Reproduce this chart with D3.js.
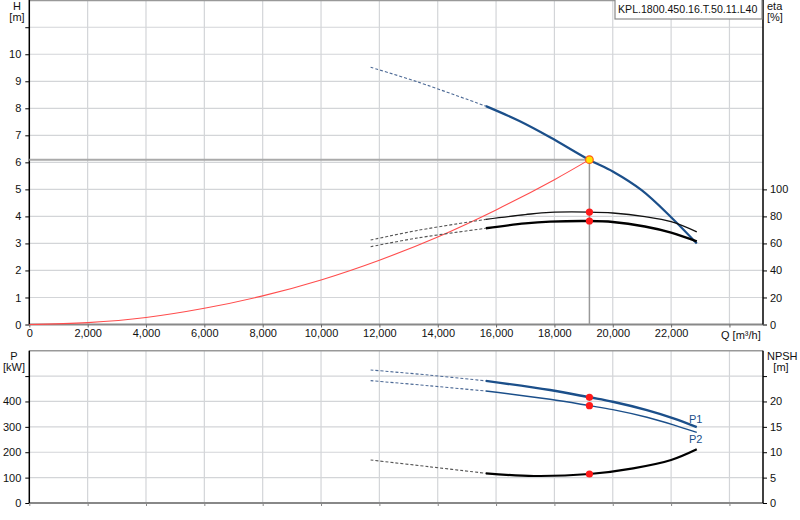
<!DOCTYPE html>
<html><head><meta charset="utf-8">
<script src="https://cdn.jsdelivr.net/npm/d3@7/dist/d3.min.js"></script>
<style>body{margin:0;background:#fff}svg{display:block;font-family:"Liberation Sans",Arial,sans-serif}</style>
</head><body>
<svg id="c" width="800" height="520"></svg>
<script>
// ---- data ----
const qTicks = [0,2000,4000,6000,8000,10000,12000,14000,16000,18000,20000,22000,24000];
const hTicks = [0,1,2,3,4,5,6,7,8,9,10,11];
const etaTicks = [0,20,40,60,80,100];
const pTicks = [0,100,200,300,400,500];
const npshTicks = [0,5,10,15,20,25];

const hDashQ = [11700,13300,15650];
const hDash  = [9.52,8.98,8.08];
const hQ = [15650,16800,17850,19200,20000,21000,22000,22880];
const hVal = [8.08,7.53,6.93,6.09,5.66,4.96,3.97,3.0];

const etaDashQ = [11700,13300,15650];
const eta1Dash = [62.5,69.6,77.8];
const eta2Dash = [57.6,64.0,71.2];
const etaQ = [15650,17000,17850,19200,20000,21100,22000,22880];
const eta1 = [77.8,81.3,83.0,83.2,82.5,79.8,76.1,68.6];
const eta2 = [71.2,74.8,76.1,76.6,75.9,72.5,68.0,61.5];

const sysQ = [0,2000,4000,6000,8000,10000,12000,14000,16000,18000,19200];
const sysH = [0,0.07,0.26,0.6,1.06,1.65,2.38,3.24,4.24,5.36,6.1];

const pDashQ = [11700,13700,15650];
const p1Dash = [524,504,481];
const p2Dash = [482,462,441];
const pQ = [15650,17850,19200,20000,21170,22080,22880];
const p1 = [481,445,416.5,399,366,333.6,299];
const p2 = [441,408.5,383.5,368,338,308,278];

const nDashQ = [11700,13700,15650];
const nDash = [8.47,7.15,5.85];
const nQ = [15650,17300,19200,20700,22000,22880];
const npsh = [5.85,5.32,5.71,6.83,8.47,10.58];

const op = {q:19200, h:6.1, eta1:83.2, eta2:76.6, p1:416.5, p2:383.5, npsh:5.71};
const title = "KPL.1800.450.16.T.50.11.L40";

// ---- scales ----
const L = 29.3, R = 763;
const x = d3.scaleLinear().domain([0,25150]).range([L,R]);
const yH = d3.scaleLinear().domain([0,12]).range([324.5,0.2]);
const yE = d3.scaleLinear().domain([0,240]).range([324.5,0.2]);
const yP = d3.scaleLinear().domain([0,600]).range([503,350.7]);
const yN = d3.scaleLinear().domain([0,30]).range([503,350.7]);

const svg = d3.select("#c");
const blue = "#1b4f8a";
const fmt = d3.format(",");

function grid(yScale, ticks, top, bottom){
  const g = svg.append("g");
  g.selectAll(".v").data(qTicks.filter(d=>d>0)).join("line")
    .attr("x1",d=>x(d)).attr("x2",d=>x(d)).attr("y1",top).attr("y2",bottom)
    .attr("stroke","#d3d5d8").attr("stroke-width",1.2);
  g.selectAll(".h").data(ticks.filter(d=>d>0)).join("line")
    .attr("x1",L).attr("x2",R).attr("y1",d=>yScale(d)).attr("y2",d=>yScale(d))
    .attr("stroke","#d3d5d8").attr("stroke-width",1.2);
  g.append("line").attr("x1",L).attr("x2",R).attr("y1",top).attr("y2",top).attr("stroke","#999").attr("stroke-width",1.5);
  g.append("line").attr("x1",L).attr("x2",R).attr("y1",bottom).attr("y2",bottom).attr("stroke","#888").attr("stroke-width",2);
}
grid(yH, hTicks, 0.5, yH(0));
grid(yP, pTicks, yP(600), yP(0));

function leftAxis(scale, ticks, maxLabel){
  const a = d3.axisLeft(scale).tickValues(ticks).tickSize(4).tickSizeOuter(0)
    .tickFormat(d=> d<=maxLabel ? d : "");
  const g = svg.append("g").attr("transform",`translate(${L},0)`).call(a);
  g.select(".domain").attr("stroke","#000").attr("stroke-width",1.5);
  g.selectAll("text").attr("font-size",11).attr("fill","#111").attr("dx",-1);
  return g;
}
function rightAxis(scale, ticks){
  const a = d3.axisRight(scale).tickValues(ticks).tickSize(4).tickSizeOuter(0);
  const g = svg.append("g").attr("transform",`translate(${R},0)`).call(a);
  g.select(".domain").attr("stroke","#000").attr("stroke-width",1.5);
  g.selectAll("text").attr("font-size",11).attr("fill","#111");
  return g;
}
const la1 = leftAxis(yH, hTicks, 10);
la1.select(".domain").attr("d",`M0,${yH(0)}V0`);
const ra1 = rightAxis(yE, etaTicks);
ra1.select(".domain").attr("d",`M0,${yE(0)}V0`);
const la2 = leftAxis(yP, pTicks, 400);
la2.select(".domain").attr("d",`M0,${yP(0)}V${yP(600)}`);
const ra2 = rightAxis(yN, npshTicks);
ra2.select(".domain").attr("d",`M0,${yN(0)}V${yN(30)}`);
ra2.selectAll("text").text(d=> d<=20 ? d : "");

const xa = d3.axisBottom(x).tickValues(qTicks).tickSize(3).tickSizeOuter(0)
  .tickFormat(d=> d===24000 ? "" : fmt(d));
const xg = svg.append("g").attr("transform",`translate(0,${yH(0)})`).call(xa);
xg.select(".domain").remove();
xg.selectAll("line").attr("stroke","#666");
xg.selectAll("text").attr("font-size",11).attr("fill","#111").attr("dy","0.55em");
svg.append("text").attr("x",721).attr("y",339).attr("font-size",11).attr("fill","#111").text("Q [m³/h]");
const xb = d3.axisBottom(x).tickValues(qTicks).tickSize(3).tickSizeOuter(0).tickFormat("");
const xbg = svg.append("g").attr("transform",`translate(0,${yP(0)})`).call(xb);
xbg.select(".domain").remove();
xbg.selectAll("line").attr("stroke","#888");

function lab(t,xx,yy,anchor,col){svg.append("text").attr("x",xx).attr("y",yy).attr("font-size",11)
  .attr("text-anchor",anchor).attr("fill",col||"#111").text(t);}
lab("H",17,10,"middle"); lab("[m]",17,21,"middle");
lab("eta",767,10,"start"); lab("[%]",767,21,"start");
lab("P",14,360,"middle"); lab("[kW]",14,371,"middle");
lab("NPSH",767,360,"start"); lab("[m]",781,371,"middle");

svg.append("line").attr("x1",L).attr("x2",x(op.q)).attr("y1",yH(op.h)).attr("y2",yH(op.h))
  .attr("stroke","#aaa").attr("stroke-width",2);
svg.append("line").attr("x1",x(op.q)).attr("x2",x(op.q)).attr("y1",yH(op.h)).attr("y2",yH(0))
  .attr("stroke","#999").attr("stroke-width",1.5);

function curve(qs, vs, ys, color, w, dash){
  const line = d3.line().x((d,i)=>x(qs[i])).y((d,i)=>ys(vs[i])).curve(d3.curveCatmullRom.alpha(0.5));
  svg.append("path").attr("d",line(vs)).attr("fill","none").attr("stroke",color)
    .attr("stroke-width",w).attr("stroke-dasharray",dash||null);
}
curve(sysQ, sysH, yH, "#ff4d4d", 1.1);
curve(hDashQ, hDash, yH, "#4d6a96", 1.1, "3,2");
curve(hQ, hVal, yH, blue, 2.2);
curve(etaDashQ, eta1Dash, yE, "#555", 1.1, "3,2");
curve(etaDashQ, eta2Dash, yE, "#555", 1.1, "3,2");
curve(etaQ, eta1, yE, "#111", 1.4);
curve(etaQ, eta2, yE, "#000", 2.4);
curve(pDashQ, p1Dash, yP, "#4d6a96", 1.1, "3,2");
curve(pDashQ, p2Dash, yP, "#4d6a96", 1.1, "3,2");
curve(pQ, p1, yP, blue, 2.4);
curve(pQ, p2, yP, blue, 1.4);
curve(nDashQ, nDash, yN, "#555", 1.1, "3,2");
curve(nQ, npsh, yN, "#000", 2.2);

function pt(xx,yy,fill,stroke,r){svg.append("circle").attr("cx",xx).attr("cy",yy).attr("r",r)
  .attr("fill",fill).attr("stroke",stroke||"none").attr("stroke-width",1.2);}
pt(x(op.q), yE(op.eta1), "#ff1a1a", null, 3.6);
pt(x(op.q), yE(op.eta2), "#ff1a1a", null, 3.6);
pt(x(op.q), yP(op.p1), "#ff1a1a", null, 3.6);
pt(x(op.q), yP(op.p2), "#ff1a1a", null, 3.6);
pt(x(op.q), yN(op.npsh), "#ff1a1a", null, 3.6);
pt(x(op.q), yH(op.h), "#ffe600", "#ff5a1a", 3.8);

lab("P1", 689, 423, "start", blue);
lab("P2", 689, 443, "start", blue);

svg.append("rect").attr("x",615).attr("y",-1).attr("width",147).attr("height",20)
  .attr("fill","#fff").attr("stroke","#8a8a8a").attr("stroke-width",1.2);
svg.append("text").attr("x",618).attr("y",13).attr("font-size",10.6).attr("fill","#111").text(title);
</script>
</body></html>
